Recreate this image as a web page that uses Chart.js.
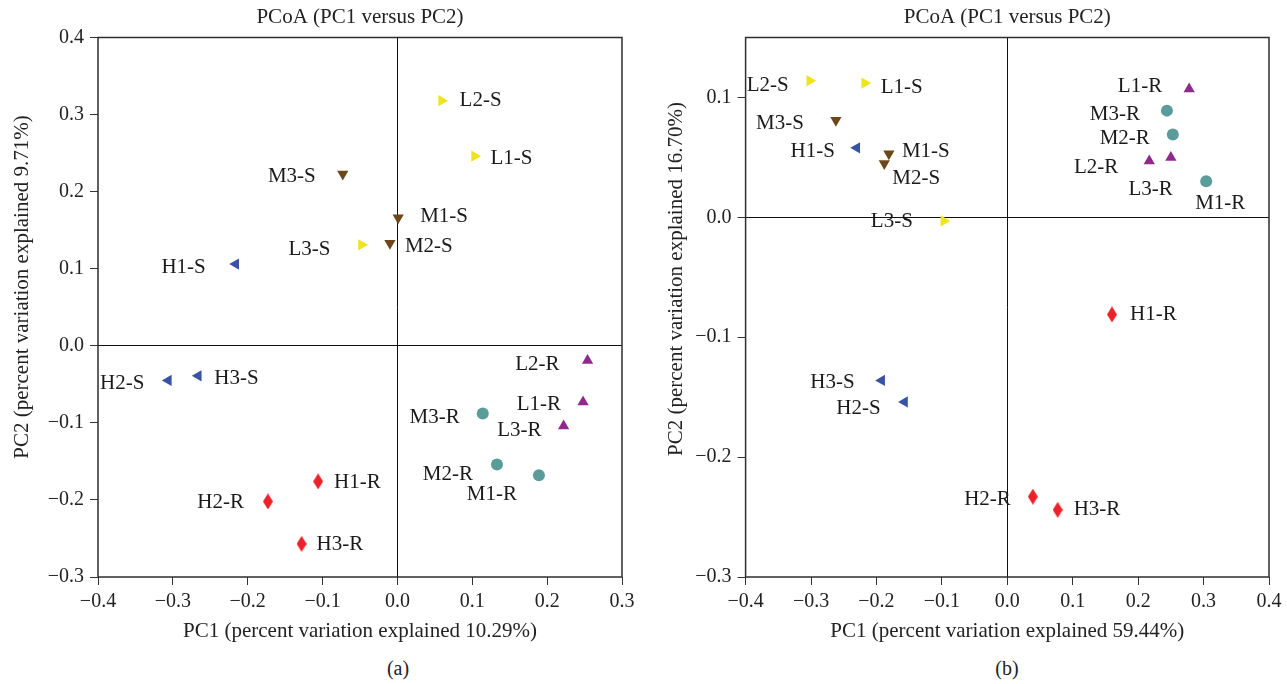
<!DOCTYPE html>
<html>
<head>
<meta charset="utf-8">
<script src="https://cdn.jsdelivr.net/npm/chart.js@4.4.1/dist/chart.umd.min.js"></script>
<style>
    body { margin: 0; background: #fff; width: 1287px; height: 684px; position: relative; overflow: hidden; font-family: "Liberation Serif", serif; }
    canvas { position: absolute; top: 0; }
    #chart-a { left: 0; }
    #chart-b { left: 645px; }
    .cap { position: absolute; top: 656px; font-size: 20px; line-height: 24px; color: #222; transform: translateX(-50%); }
</style>
</head>
<body>
<canvas id="chart-a" width="645" height="648"></canvas>
<canvas id="chart-b" width="642" height="648"></canvas>
<div class="cap" style="left:398px">(a)</div>
<div class="cap" style="left:1007px">(b)</div>
<script>
// ============================================================
// PCoA (PC1 versus PC2) - dos paneles
// ============================================================

// --- Panel (a) ---
const namesA = ['L1-S', 'L2-S', 'L3-S', 'M1-S', 'M2-S', 'M3-S', 'H1-S', 'H2-S', 'H3-S',
                'L1-R', 'L2-R', 'L3-R', 'M1-R', 'M2-R', 'M3-R', 'H1-R', 'H2-R', 'H3-R'];
const pc1A = [0.103, 0.059, -0.048, 0.001, -0.010, -0.073, -0.216, -0.306, -0.266,
              0.248, 0.254, 0.222, 0.189, 0.133, 0.114, -0.106, -0.173, -0.128];
const pc2A = [0.246, 0.318, 0.131, 0.166, 0.133, 0.223, 0.106, -0.045, -0.039,
              -0.073, -0.019, -0.104, -0.168, -0.154, -0.088, -0.176, -0.202, -0.257];
const xRangeA = [-0.4, 0.3];
const yRangeA = [-0.3, 0.4];
const xTicksA = [-0.4, -0.3, -0.2, -0.1, 0, 0.1, 0.2, 0.3];
const yTicksA = [-0.3, -0.2, -0.1, 0, 0.1, 0.2, 0.3, 0.4];

// --- Panel (b) ---
const namesB = ['L1-S', 'L2-S', 'L3-S', 'M1-S', 'M2-S', 'M3-S', 'H1-S', 'H2-S', 'H3-S',
                'L1-R', 'L2-R', 'L3-R', 'M1-R', 'M2-R', 'M3-R', 'H1-R', 'H2-R', 'H3-R'];
const pc1B = [-0.218, -0.302, -0.097, -0.181, -0.188, -0.262, -0.230, -0.157, -0.192,
              0.278, 0.217, 0.250, 0.304, 0.253, 0.244, 0.160, 0.039, 0.077];
const pc2B = [0.112, 0.114, -0.003, 0.053, 0.045, 0.081, 0.058, -0.154, -0.136,
              0.107, 0.047, 0.050, 0.030, 0.069, 0.089, -0.081, -0.233, -0.244];
const xRangeB = [-0.4, 0.4];
const yRangeB = [-0.3, 0.15];
const xTicksB = [-0.4, -0.3, -0.2, -0.1, 0, 0.1, 0.2, 0.3, 0.4];
const yTicksB = [-0.3, -0.2, -0.1, 0, 0.1];

// posiciones de las etiquetas: [alineacion, dx, dy] en px respecto al marcador
const labelPosA = {
    'L2-S': ['l', 18, 0], 'L1-S': ['l', 16, 2], 'M3-S': ['r', -27, 3], 'M1-S': ['l', 22, -1],
    'M2-S': ['l', 15, 3], 'L3-S': ['r', -31, 5], 'H1-S': ['r', -30, 3], 'H2-S': ['r', -24, 3],
    'H3-S': ['l', 16, 3], 'L2-R': ['r', -28, 4], 'L1-R': ['r', -22, 2], 'L3-R': ['r', -22, 5],
    'M3-R': ['r', -23, 4], 'M2-R': ['r', -24, 10], 'M1-R': ['r', -22, 19], 'H1-R': ['l', 16, 1],
    'H2-R': ['r', -24, 1], 'H3-R': ['l', 15, 1]
};
const labelPosB = {
    'L2-S': ['r', -21, 5], 'L1-S': ['l', 16, 4], 'M3-S': ['r', -32, 3], 'H1-S': ['r', -22, 4],
    'M1-S': ['l', 13, -2], 'M2-S': ['l', 8, 15], 'L3-S': ['r', -31, 1], 'L1-R': ['r', -27, -3],
    'M3-R': ['r', -27, 4], 'M2-R': ['r', -23, 4], 'L2-R': ['r', -31, 6], 'L3-R': ['r', 2, 32],
    'M1-R': ['l', -11, 22], 'H1-R': ['l', 18, 0], 'H3-S': ['r', -27, 2], 'H2-S': ['r', -24, 7],
    'H2-R': ['r', -22, 3], 'H3-R': ['l', 16, 0]
};

function makeDiamond(color) {
    const c = document.createElement('canvas');
    c.width = 10; c.height = 16;
    const g = c.getContext('2d');
    g.fillStyle = color;
    g.beginPath();
    g.moveTo(5, 0); g.lineTo(10, 8); g.lineTo(5, 16); g.lineTo(0, 8);
    g.closePath();
    g.fill();
    return c;
}

// estilo por grupo (nivel + S/R)
const groupStyle = {
    'LS': { color: '#efe41b', style: 'triangle', rotation: 90, radius: 6.5 },
    'MS': { color: '#6b4719', style: 'triangle', rotation: 180, radius: 6.5 },
    'HS': { color: '#3853a6', style: 'triangle', rotation: 270, radius: 6.5 },
    'LR': { color: '#8d2a8c', style: 'triangle', rotation: 0, radius: 6.5 },
    'MR': { color: '#5a9c9a', style: 'circle', rotation: 0, radius: 6 },
    'HR': { color: '#ec2229', style: 'diamond', rotation: 0, radius: 6 }
};
const groupOrder = ['LS', 'MS', 'HS', 'LR', 'MR', 'HR'];

const FONT = '"Liberation Serif", "Times New Roman", serif';
Chart.defaults.font.family = FONT;
Chart.defaults.font.size = 20;
Chart.defaults.color = '#222';

const framePlugin = {
    id: 'frame',
    beforeDatasetsDraw(chart) {
        const { ctx, chartArea: a } = chart;
        ctx.save();
        ctx.strokeStyle = '#2e2e2e';
        ctx.lineWidth = 1.5;
        ctx.strokeRect(a.left, a.top, a.right - a.left, a.bottom - a.top);
        ctx.restore();
    }
};

// titulo del eje Y (rotado), centrado donde lo pone la figura original
const yTitlePlugin = {
    id: 'yTitle',
    afterDraw(chart, args, opts) {
        const ctx = chart.ctx;
        ctx.save();
        ctx.translate(opts.x, opts.y);
        ctx.rotate(-Math.PI / 2);
        ctx.font = '21px ' + FONT;
        ctx.fillStyle = '#222';
        ctx.textAlign = 'center';
        ctx.textBaseline = 'middle';
        ctx.fillText(opts.text, 0, 0);
        ctx.restore();
    }
};

const pointLabels = {
    id: 'pointLabels',
    afterDatasetsDraw(chart, args, opts) {
        const ctx = chart.ctx;
        ctx.save();
        ctx.font = '21px ' + FONT;
        ctx.fillStyle = '#1a1a1a';
        ctx.textBaseline = 'middle';
        chart.data.datasets.forEach((ds, di) => {
            const meta = chart.getDatasetMeta(di);
            meta.data.forEach((el, i) => {
                const name = ds.data[i].label;
                const p = opts.pos[name] || ['l', 14, 0];
                ctx.textAlign = p[0] === 'l' ? 'left' : 'right';
                ctx.fillText(name, el.x + p[1], el.y + p[2]);
            });
        });
        ctx.restore();
    }
};

function fmt(v) {
    const s = Math.abs(v).toFixed(1);
    return v < -1e-9 ? '\u2212' + s : s;
}

function buildDatasets(names, xs, ys) {
    return groupOrder.map(g => {
        const st = groupStyle[g];
        const pts = [];
        names.forEach((n, i) => {
            if (n[0] + n[n.length - 1] === g) pts.push({ x: xs[i], y: ys[i], label: n });
        });
        return {
            label: g,
            data: pts,
            pointStyle: st.style === 'diamond' ? makeDiamond(st.color) : st.style,
            rotation: st.rotation,
            pointRadius: st.radius,
            backgroundColor: st.color,
            borderColor: st.color,
            borderWidth: 0
        };
    });
}

function drawChart(id, names, xs, ys, xr, yr, xt, yt, yTitle, xTitle, geo, labelPos) {
    const axisGrid = {
        color: c => (c.tick && Math.abs(c.tick.value) < 1e-9) ? '#111' : 'rgba(0,0,0,0)',
        tickColor: '#333',
        tickLength: 8,
        lineWidth: 1
    };
    new Chart(document.getElementById(id), {
        type: 'scatter',
        data: { datasets: buildDatasets(names, xs, ys) },
        options: {
            responsive: false,
            animation: false,
            events: [],
            layout: { padding: { left: geo.padLeft, right: geo.padRight, top: 0, bottom: 0 } },
            plugins: {
                legend: { display: false },
                tooltip: { enabled: false },
                title: {
                    display: true,
                    text: 'PCoA (PC1 versus PC2)',
                    fullSize: false,
                    color: '#222',
                    font: { size: 21, weight: 'normal' },
                    padding: { top: 5, bottom: 7.3 }
                },
                pointLabels: { pos: labelPos },
                yTitle: { text: yTitle, x: geo.yTitleX, y: geo.yTitleY }
            },
            scales: {
                x: {
                    type: 'linear',
                    min: xr[0], max: xr[1],
                    afterFit: s => { s.height = 71; },
                    afterBuildTicks: s => { s.ticks = xt.map(v => ({ value: v })); },
                    border: { display: false },
                    grid: axisGrid,
                    ticks: { padding: 5, maxRotation: 0, callback: fmt, color: '#222' },
                    title: { display: true, text: xTitle, color: '#222', font: { size: 21 } }
                },
                y: {
                    type: 'linear',
                    min: yr[0], max: yr[1],
                    afterFit: s => { s.width = geo.yWidth; },
                    afterBuildTicks: s => { s.ticks = yt.map(v => ({ value: v })); },
                    border: { display: false },
                    grid: axisGrid,
                    ticks: { padding: 6, callback: fmt, color: '#222' },
                    title: { display: false }
                }
            }
        },
        plugins: [framePlugin, pointLabels, yTitlePlugin]
    });
}

drawChart('chart-a', namesA, pc1A, pc2A, xRangeA, yRangeA, xTicksA, yTicksA,
    'PC2 (percent variation explained 9.71%)',
    'PC1 (percent variation explained 10.29%)',
    { padLeft: 6, yWidth: 92, padRight: 23, yTitleX: 22, yTitleY: 287 }, labelPosA);

drawChart('chart-b', namesB, pc1B, pc2B, xRangeB, yRangeB, xTicksB, yTicksB,
    'PC2 (percent variation explained 16.70%)',
    'PC1 (percent variation explained 59.44%)',
    { padLeft: 15, yWidth: 85.6, padRight: 18, yTitleX: 31, yTitleY: 279 }, labelPosB);
</script>
</body>
</html>
